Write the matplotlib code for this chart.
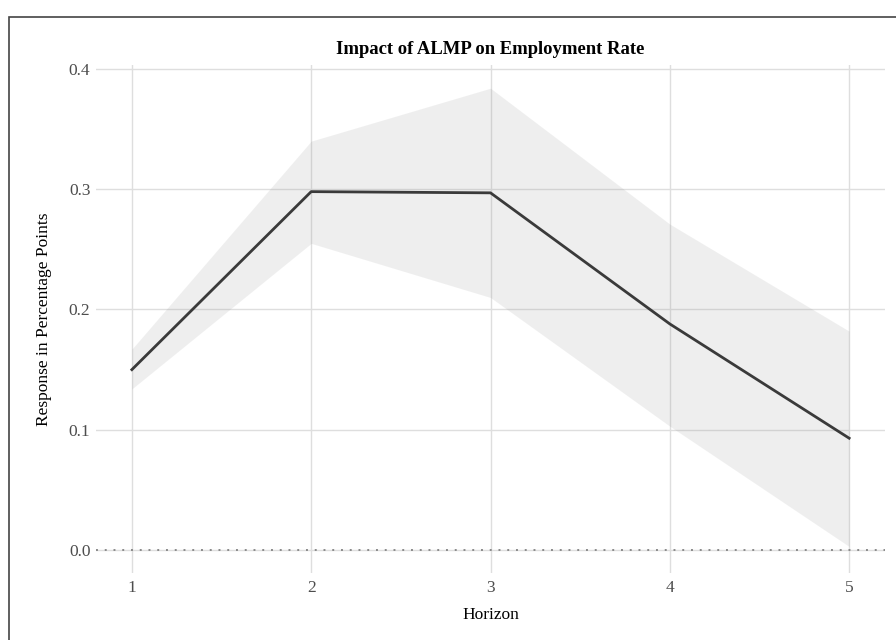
import matplotlib
matplotlib.use('Agg')
import matplotlib.pyplot as plt
from matplotlib.patches import Rectangle

horizon = [1, 2, 3, 4, 5]
estimate = [0.150, 0.298, 0.297, 0.188, 0.093]
upper = [0.167, 0.340, 0.384, 0.271, 0.182]
lower = [0.134, 0.255, 0.210, 0.103, 0.003]
y_ticks = [0.0, 0.1, 0.2, 0.3, 0.4]

plt.rcParams['font.family'] = ['Liberation Serif', 'DejaVu Serif']


def main():
    fig = plt.figure(figsize=(8.96, 6.4), dpi=100)
    ax = fig.add_axes([96 / 896, 1 - 573 / 640, 789 / 896, 508 / 640])

    # grid first, then confidence band and estimate on top
    ax.set_axisbelow(True)
    ax.grid(True, color='#dedede', linewidth=1.0)
    for s in ax.spines.values():
        s.set_visible(False)
    ax.tick_params(length=0, labelsize=12.5, colors='#4d4d4d')
    ax.tick_params(axis='y', pad=4)
    ax.tick_params(axis='x', pad=5)

    ax.fill_between(horizon, lower, upper, color='#7f7f7f', alpha=0.125,
                    linewidth=0)
    ax.axhline(0, color='#8a8a8a', linestyle=(0, (1, 3.5)), linewidth=1.4,
               zorder=3)
    ax.plot(horizon, estimate, color='#3a3a3a', linewidth=2.0, zorder=4)

    ax.set_xlim(0.8, 5.2)
    ax.set_ylim(-0.0191, 0.4033)
    ax.set_xticks(horizon)
    ax.set_yticks(y_ticks)
    ax.set_yticklabels([f'{v:.1f}' for v in y_ticks])

    ax.set_xlabel('Horizon', fontsize=12.5, color='black', labelpad=8)
    ax.set_ylabel('Response in Percentage Points', fontsize=12.5,
                  color='black', labelpad=12)
    ax.set_title('Impact of ALMP on Employment Rate', fontsize=13.4,
                 fontweight='bold', pad=8)

    # outer frame, open to the right and bottom edges
    fig.add_artist(Rectangle((9 / 896, -0.1), 2, 1 - 17 / 640 + 0.1,
                             transform=fig.transFigure, fill=False,
                             edgecolor='#444444', linewidth=1.2))

    fig.savefig('out.png', dpi=100)


if __name__ == '__main__':
    main()
